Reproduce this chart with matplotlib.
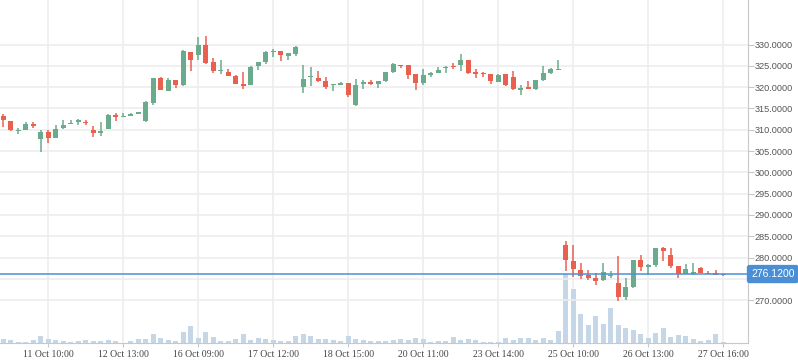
import matplotlib
matplotlib.use("Agg")
import matplotlib.pyplot as plt
import numpy as np

# ---------------------------------------------------------------
# OHLC, one candle per row
opens = [313.26, 312.09, 309.7, 309.83, 311.4, 307.73, 309.44, 307.96, 310.45, 311.23,
         311.7, 311.85, 309.98, 309.13, 310.06, 313.49, 313.0, 313.3, 313.8, 312.01,
         316.37, 322.06, 319.1, 321.67, 320.5, 328.29, 327.5, 329.84, 325.87, 323.7,
         323.54, 322.6, 320.73, 320.58, 325.0, 325.95, 328.13, 328.44, 327.35, 327.74,
         320.11, 322.3, 322.13, 321.43, 320.4, 320.58, 320.97, 315.9, 320.8, 321.1,
         320.72, 321.42, 323.44, 325.2, 325.08, 322.98, 320.95, 322.82, 323.29, 324.45,
         324.8, 325.16, 326.25, 323.44, 323.2, 322.98, 321.1, 322.98, 322.27, 319.4,
         319.94, 319.47, 321.57, 323.21, 324.0, 282.93, 279.18, 277.07, 275.98, 275.2,
         274.73, 275.6, 274.02, 270.74, 273.0, 279.34, 277.85, 278.24, 282.23, 280.51,
         278.0, 276.05, 276.2, 277.54, 276.45, 276.4, 276.05]
highs = [313.72, 312.1, 310.3, 311.85, 311.85, 310.0, 310.0, 311.15, 312.32, 312.32,
         312.55, 312.17, 310.92, 311.85, 313.72, 313.95, 313.95, 313.95, 314.2, 316.8,
         322.13, 322.45, 322.06, 321.67, 328.68, 328.3, 331.79, 331.95, 326.8, 326.34,
         324.24, 322.76, 323.54, 324.94, 325.87, 328.52, 328.99, 328.44, 327.98, 329.69,
         325.25, 324.78, 323.77, 322.37, 320.73, 321.28, 320.97, 321.98, 321.67, 321.67,
         321.34, 323.6, 325.7, 325.2, 325.08, 322.98, 324.14, 323.52, 324.61, 325.0,
         325.62, 327.8, 326.48, 324.3, 323.44, 322.98, 322.98, 323.13, 323.83, 320.4,
         321.34, 321.57, 324.84, 324.53, 326.48, 283.95, 282.93, 278.63, 277.07, 276.29,
         278.71, 276.9, 280.35, 275.2, 279.41, 280.59, 278.4, 282.23, 282.46, 282.23,
         278.0, 278.48, 278.63, 277.77, 276.84, 277.15, 276.1]
lows = [310.53, 309.8, 309.0, 309.83, 310.45, 304.69, 306.79, 307.96, 310.22, 311.23,
        311.0, 311.0, 308.19, 308.43, 310.06, 311.93, 313.0, 313.3, 313.65, 311.7,
        315.9, 319.33, 319.1, 319.88, 320.27, 323.77, 326.34, 325.4, 323.22, 323.0,
        322.68, 320.65, 319.64, 320.58, 324.0, 325.48, 327.12, 326.18, 326.4, 327.27,
        318.71, 320.34, 321.28, 319.56, 319.17, 320.42, 317.77, 315.67, 319.64, 320.4,
        319.86, 321.26, 323.29, 324.53, 321.88, 319.31, 320.48, 322.43, 323.29, 323.36,
        324.22, 323.75, 322.98, 322.2, 322.35, 320.8, 321.1, 320.33, 319.31, 318.15,
        319.55, 319.24, 321.42, 322.98, 324.0, 276.91, 275.51, 275.04, 274.73, 273.55,
        274.49, 275.1, 269.88, 270.04, 272.77, 276.84, 275.82, 277.85, 279.26, 277.54,
        275.12, 276.05, 275.82, 276.45, 276.13, 276.0, 275.75]
closes = [312.17, 309.83, 309.9, 311.39, 310.92, 309.52, 307.96, 310.22, 311.15, 311.62,
          312.17, 311.46, 309.13, 309.75, 313.49, 313.1, 313.05, 313.45, 314.0, 316.6,
          322.13, 319.33, 321.67, 320.5, 328.44, 326.34, 329.84, 325.56, 323.85, 323.8,
          322.68, 320.81, 320.35, 324.78, 325.87, 328.13, 328.52, 327.5, 327.98, 329.38,
          321.9, 322.4, 321.51, 320.11, 320.55, 321.04, 318.16, 320.42, 321.0, 320.8,
          321.34, 323.44, 325.47, 325.0, 322.9, 320.95, 322.74, 323.21, 323.91, 324.77,
          324.7, 326.25, 323.21, 323.13, 323.0, 321.34, 322.82, 320.48, 319.47, 319.5,
          319.55, 321.57, 323.21, 324.14, 324.14, 279.49, 277.23, 275.74, 275.27, 274.57,
          276.6, 275.7, 270.82, 273.09, 279.41, 277.77, 278.17, 282.23, 281.6, 278.09,
          276.05, 277.23, 276.45, 276.45, 276.13, 276.0, 275.8]
volumes = [4.3, 2.7, 1.3, 1.3, 3.3, 6.7, 3.7, 2.7, 2.3, 0.7,
           1.7, 3.3, 1.7, 1.7, 2.7, 1.7, 0.3, 1.7, 4.3, 3.7,
           8.7, 4.7, 2.7, 1.7, 10.7, 16.7, 4.7, 10.7, 5.7, 1.7,
           1.7, 3.7, 8.7, 2.7, 4.7, 3.7, 2.7, 1.7, 1.7, 6.7,
           8.7, 6.7, 3.7, 3.7, 2.7, 1.7, 6.7, 3.7, 2.7, 1.7,
           1.7, 1.7, 2.7, 3.7, 2.7, 4.7, 3.7, 0.7, 1.7, 1.7,
           5.7, 2.7, 3.7, 2.7, 0.7, 0.7, 0.7, 4.7, 2.7, 4.7,
           4.7, 2.7, 4.7, 2.7, 11.7, 69.0, 54.0, 28.7, 17.7, 26.7,
           18.7, 35.0, 17.7, 14.7, 12.7, 8.7, 4.7, 9.7, 14.7, 5.7,
           7.7, 6.7, 3.7, 1.7, 2.7, 8.7, 0.7]

xlabels = ['11 Oct 10:00', '12 Oct 13:00', '16 Oct 09:00', '17 Oct 12:00', '18 Oct 15:00',
           '20 Oct 11:00', '23 Oct 14:00', '25 Oct 10:00', '26 Oct 13:00', '27 Oct 16:00']
xlabel_idx = [6, 16, 26, 36, 46, 56, 66, 76, 86, 96]
yticks = [270, 275, 280, 285, 290, 295, 300, 305, 310, 315, 320, 325, 330]
last_price = 276.12

UP = '#6aab8e'
DOWN = '#e9604f'
VOL = '#c5d6e6'
GRID = '#ededed'
AXC = '#c8c8c8'

# ---------------------------------------------------------------
fig = plt.figure(figsize=(7.98, 3.63), dpi=100)
ax = fig.add_axes([0, 20/363, 748/798, 343/363])
axv = ax.twinx()

ax.set_zorder(2)
axv.set_zorder(1)
ax.patch.set_visible(False)

idx = np.arange(len(opens))
o = np.array(opens)
c = np.array(closes)
h = np.array(highs)
l = np.array(lows)
up = c >= o
cols = np.where(up, UP, DOWN)

# volume
axv.bar(idx, volumes, width=0.65, color=VOL, zorder=2)
axv.set_ylim(0, 343)
axv.set_yticks([])
for s in axv.spines.values():
    s.set_visible(False)

# grid
for xi in xlabel_idx:
    axv.axvline(xi, color=GRID, lw=1.2, zorder=0)
for yv in yticks:
    ax.axhline(yv, color=GRID, lw=1.2, zorder=0)

# candles
ax.vlines(idx, l, h, colors=cols, lw=1.1, zorder=3)
body_bot = np.minimum(o, c)
body_h = np.maximum(np.abs(c - o), 0.3)
ax.bar(idx, body_h, bottom=body_bot, width=0.7, color=cols, zorder=4)

# last price line + label (hides the 275 label like the reference)
ax.axhline(last_price, color='#4a90d9', lw=1.1, zorder=5)
ax.text(1.004, last_price, '%.4f' % last_price, transform=ax.get_yaxis_transform(),
        va='center', ha='left', color='white', fontsize=7.5, family='Liberation Sans',
        bbox=dict(boxstyle='round,pad=0.4,rounding_size=0.25', fc='#4a8fd6', ec='none'),
        clip_on=False, zorder=10)

ax.set_xlim(-0.44, 99.29)
ax.set_ylim(259.93, 340.45)

ax.yaxis.tick_right()
ax.set_yticks(yticks)
ax.set_yticklabels(['' if v == 275 else '%.4f' % v for v in yticks], fontsize=6.6,
                   color='#555555', family='Liberation Sans')
ax.tick_params(axis='y', length=4, color=AXC, pad=1)

ax.set_xticks(xlabel_idx)
ax.set_xticklabels(xlabels, fontsize=7, color='#444444', family='Liberation Serif')
ax.tick_params(axis='x', length=3, color=AXC, pad=2)

for side in ['left', 'top']:
    ax.spines[side].set_visible(False)
ax.spines['right'].set_color(AXC)
ax.spines['bottom'].set_color(AXC)

fig.savefig('out.png', dpi=100)
